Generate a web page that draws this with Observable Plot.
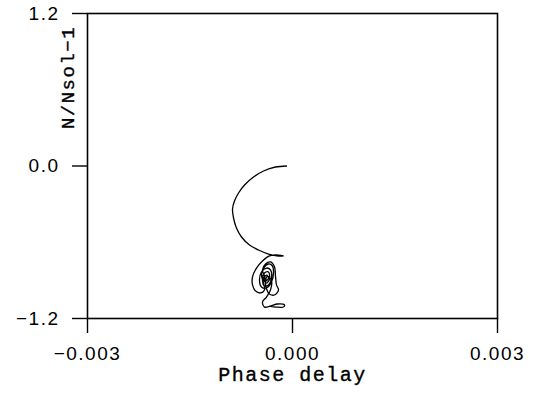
<!DOCTYPE html>
<html>
<head>
<meta charset="utf-8">
<script src="https://cdn.jsdelivr.net/npm/d3@7"></script>
<script src="https://cdn.jsdelivr.net/npm/@observablehq/plot@0.6"></script>
<style>
  html, body { margin: 0; padding: 0; background: #fff; }
</style>
</head>
<body>
<div id="chart"></div>
<script>
// Trajectory: phase delay (x) vs N/Nsol-1 (y)
const phaseDelay = [
  -0.0000878, -0.000249, -0.000424, -0.000571, -0.000702, -0.000790, -0.000849, -0.000878,
  -0.000863, -0.000820, -0.000746, -0.000629, -0.000498, -0.000351, -0.000205,
  -0.000132, -0.000234, -0.000337, -0.000439, -0.000527, -0.000585, -0.000585, -0.000541,
  -0.000468, -0.000410, -0.000424, -0.000454, -0.000424, -0.000351, -0.000293, -0.000278,
  -0.000307, -0.000380, -0.000454, -0.000483, -0.000454, -0.000380, -0.000322, -0.000307,
  -0.000351, -0.000410, -0.000439, -0.000410, -0.000351, -0.000337, -0.000380, -0.000424,
  -0.000380, -0.000351, -0.000395, -0.000410, -0.000439, -0.000395, -0.000322, -0.000263,
  -0.000249, -0.000234, -0.000205, -0.000263, -0.000337, -0.000380, -0.000395, -0.000366,
  -0.000307, -0.000322, -0.000380, -0.000439, -0.000410, -0.000322, -0.000220, -0.000117,
  -0.000132, -0.000234, -0.000337
];
const nRel = [
  0, -0.0079, -0.0393, -0.0866, -0.1495, -0.2125, -0.2754, -0.3384,
  -0.4092, -0.4879, -0.5587, -0.6216, -0.6610, -0.6925, -0.7082,
  -0.708, -0.700, -0.708, -0.748, -0.803, -0.873, -0.936, -0.984,
  -0.999, -0.976, -0.921, -0.858, -0.803, -0.771, -0.787, -0.842,
  -0.913, -0.960, -0.952, -0.897, -0.834, -0.803, -0.818, -0.881,
  -0.936, -0.944, -0.897, -0.842, -0.834, -0.889, -0.921, -0.889,
  -0.858, -0.881, -0.905, -0.866, -0.818, -0.771, -0.755, -0.795,
  -0.866, -0.936, -0.976, -1.015, -1.007, -0.968, -0.913, -0.866,
  -0.905, -0.976, -1.031, -1.070, -1.110, -1.102, -1.086, -1.094,
  -1.110, -1.110, -1.102
];
const xTicks = [-0.003, 0, 0.003];
const yTicks = [-1.2, 0, 1.2];
const xLabel = "Phase delay";
const yLabel = "N/Nsol\u22121";

const data = phaseDelay.map((x, i) => ({x, y: nRel[i]}));
const fmt = (digits) => (d) => {
  const s = Math.abs(d).toFixed(digits);
  return d < 0 ? "\u2212" + s : s;
};

const chart = Plot.plot({
  width: 542,
  height: 393,
  marginLeft: 87,
  marginRight: 45,
  marginTop: 13,
  marginBottom: 75,
  style: {fontFamily: "'Liberation Sans', Arial, sans-serif", fontSize: "19px", letterSpacing: "1.5px", color: "#000", background: "#fff"},
  x: {domain: [-0.003, 0.003]},
  y: {domain: [-1.2, 1.2]},
  marks: [
    Plot.frame({stroke: "#000", strokeWidth: 1.6}),
    Plot.axisX({ticks: xTicks, tickSize: 15, tickPadding: 13, tickFormat: fmt(3), label: null, strokeWidth: 1.4}),
    Plot.axisY({ticks: yTicks, tickSize: 15, tickPadding: 13, tickFormat: fmt(1), label: null, strokeWidth: 1.4}),
    Plot.line(data, {x: "x", y: "y", stroke: "#000", strokeWidth: 1.3, curve: "catmull-rom"}),
    Plot.text([xLabel], {frameAnchor: "bottom", dy: 62, fontFamily: "'Liberation Mono', monospace", fontSize: 20, letterSpacing: "0.5px", fill: "#000", stroke: "#000", strokeWidth: 0.35}),
    Plot.text([yLabel], {frameAnchor: "top-left", textAnchor: "middle", dx: -27, dy: 64, rotate: -90, fontFamily: "'Liberation Mono', monospace", fontSize: 19, letterSpacing: "0.5px", fill: "#000", stroke: "#000", strokeWidth: 0.35})
  ]
});
document.getElementById("chart").appendChild(chart);
</script>
</body>
</html>
